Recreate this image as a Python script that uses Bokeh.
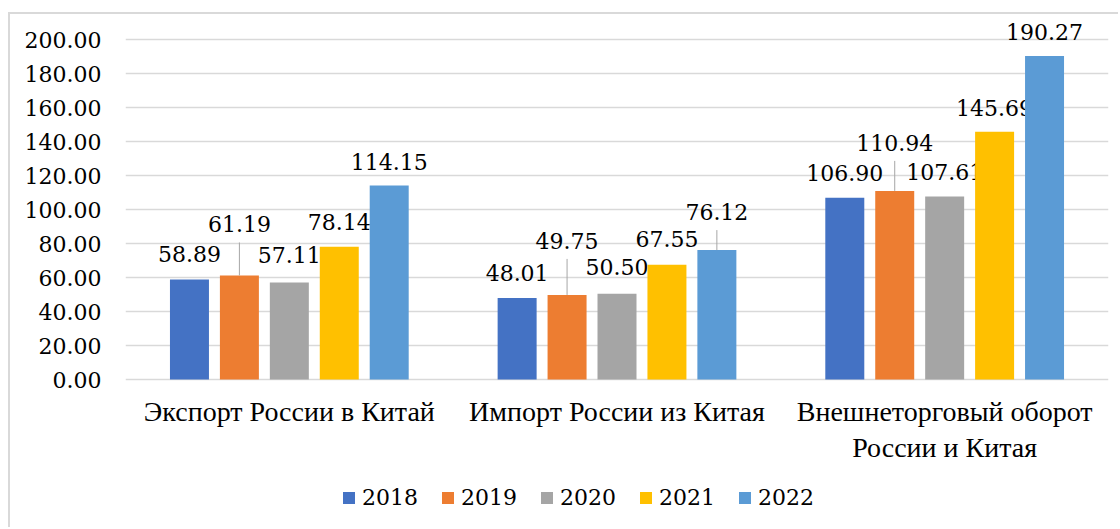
from bokeh.plotting import figure
from bokeh.models import (FactorRange, Range1d, FixedTicker, Legend, LegendItem,
                          CustomJSTickFormatter)
from bokeh.transform import dodge
from bokeh.core.properties import value
from bokeh.embed import file_html
from bokeh.resources import INLINE

categories = ["Экспорт России в Китай", "Импорт России из Китая",
              "Внешнеторговый оборот\nРоссии и Китая"]
years = ["2018", "2019", "2020", "2021", "2022"]
v2018 = [58.89, 48.01, 106.90]
v2019 = [61.19, 49.75, 110.94]
v2020 = [57.11, 50.50, 107.61]
v2021 = [78.14, 67.55, 145.69]
v2022 = [114.15, 76.12, 190.27]
series = [v2018, v2019, v2020, v2021, v2022]
colors = ["#4472C4", "#ED7D31", "#A5A5A5", "#FFC000", "#5B9BD5"]
y_ticks = [0, 20, 40, 60, 80, 100, 120, 140, 160, 180, 200]

# label placement (pixels above the bar top) per series / category
label_px = [[25, 25, 25],
            [51, 54, 48],
            [27, 27, 25],
            [25, 26, 24],
            [23, 38, 24]]
leader = [[False, False, False],
          [True, True, True],
          [False, False, False],
          [False, False, False],
          [False, True, False]]

FS = "22px"
FS_CAT = "28px"
FONT = "Liberation Serif"
NUM_FONT = "DejaVu Serif"
W, H = 1110, 515
ML, MR, MT, MB = 115, 12, 6, 4
ZERO = 365                     # canvas pixel row of the value 0
ppu = 340 / 200.0              # pixels per unit
y_end = (ZERO - MT) / ppu
y_start = -(H - MB - ZERO) / ppu

p = figure(width=W, height=H, output_backend="svg", toolbar_location=None,
           x_range=FactorRange(factors=categories, range_padding=0),
           y_range=Range1d(y_start, y_end),
           min_border_left=ML, min_border_right=MR, min_border_top=MT,
           min_border_bottom=MB)
p.styles = {"border-left": "2px solid #D9D9D9", "border-top": "2px solid #D9D9D9",
            "margin-left": "8px", "margin-top": "12px"}
p.outline_line_color = None
p.background_fill_color = "white"
p.border_fill_color = "white"

step = 0.1524
bw = 0.119
renderers = []
for i, (yr, vals, col) in enumerate(zip(years, series, colors)):
    off = (i - 2) * step
    ly = [v + label_px[i][j] / ppu for j, v in enumerate(vals)]
    lc = [c for j, c in enumerate(categories) if leader[i][j]]
    l0 = [v for j, v in enumerate(vals) if leader[i][j]]
    l1 = [v + (label_px[i][j] - 18) / ppu for j, v in enumerate(vals) if leader[i][j]]
    r = p.vbar(x=dodge("cat", off, range=p.x_range), top="val", width=bw,
               source={"cat": categories, "val": vals},
               fill_color=col, line_color=None)
    renderers.append(r)
    if lc:
        p.segment(x0=dodge("lc", off, range=p.x_range), y0="l0",
                  x1=dodge("lc", off, range=p.x_range), y1="l1",
                  source={"lc": lc, "l0": l0, "l1": l1},
                  line_color="#A6A6A6", line_width=1)
    p.text(x=dodge("cat", off, range=p.x_range), y="ly", text="lab",
           source={"cat": categories, "ly": ly, "lab": ["%.2f" % v for v in vals]},
           text_font=value(NUM_FONT), text_font_size=FS, text_color="#000000",
           text_align="center", text_baseline="middle")

# category labels under the bars
p.text(x="cat", y="cy", text="cat",
       source={"cat": categories, "cy": [-16 / ppu] * len(categories)},
       text_font=value(FONT), text_font_size=FS_CAT, text_color="#000000",
       text_align="center", text_baseline="top", text_line_height=1.17)

# axes
p.xaxis.visible = False
p.yaxis.ticker = FixedTicker(ticks=y_ticks)
p.yaxis.formatter = CustomJSTickFormatter(code="return tick.toFixed(2);")
p.yaxis.axis_line_color = None
p.yaxis.major_tick_line_color = None
p.yaxis.minor_tick_line_color = None
p.yaxis.major_label_standoff = 18
p.yaxis.major_label_text_font = NUM_FONT
p.yaxis.major_label_text_font_size = FS
p.yaxis.major_label_text_color = "#000000"

p.xgrid.grid_line_color = None
p.ygrid.grid_line_color = "#D9D9D9"
p.ygrid.grid_line_width = 1.5

legend = Legend(items=[LegendItem(label=y, renderers=[r]) for y, r in zip(years, renderers)],
                orientation="horizontal", location=(216, 15),
                glyph_width=15, glyph_height=15, label_standoff=6, spacing=22,
                padding=0, margin=0, border_line_color=None,
                background_fill_alpha=0,
                label_text_font=NUM_FONT, label_text_font_size=FS,
                label_text_color="#000000")
p.add_layout(legend, "center")

open("out.html", "w").write(file_html(p, INLINE))
